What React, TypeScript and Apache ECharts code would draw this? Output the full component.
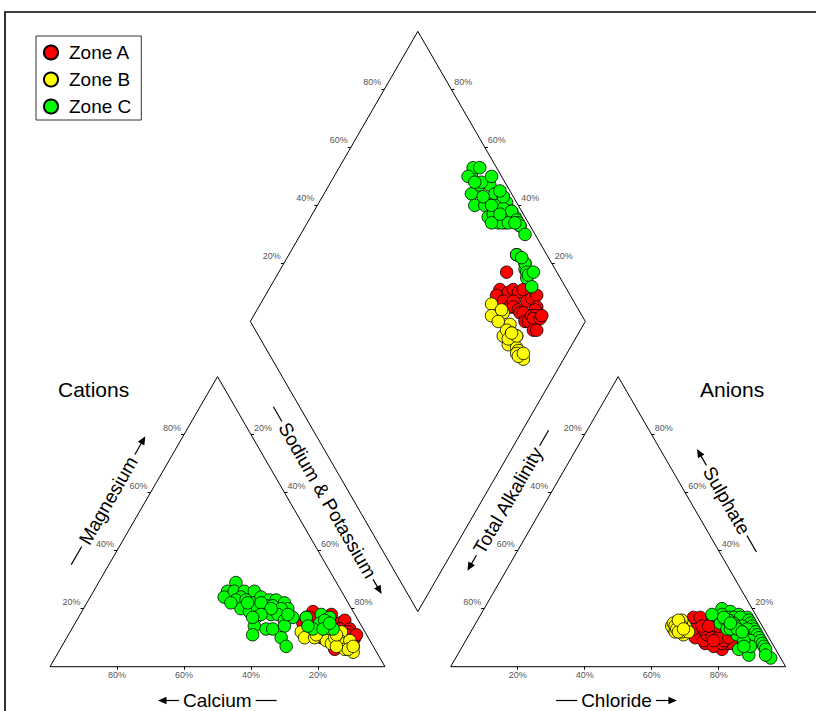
import React, { useEffect, useRef } from "react";
import * as echarts from "echarts";

// ---------------- data ----------------
const ZONES = ["Zone A", "Zone B", "Zone C"];
const ZONE_COLORS = ["#ff0000", "#ffff00", "#00ff00"];
const TICK_VALUES = [20, 40, 60, 80];

// each sample: [Calcium %, Magnesium %, Chloride %, Sulphate %]
// (Sodium & Potassium = 100 - Ca - Mg, Total Alkalinity = 100 - Cl - SO4)
const zoneA: number[][] = [
  [17, 15, 79, 12], [15, 17, 70, 15], [12, 19, 72, 8], [14, 17, 68, 10],
  [16, 12, 70, 12], [15, 13, 66, 13], [13, 14, 78, 6], [7, 18, 71, 9],
  [9, 16, 72, 13], [13, 12, 71, 11], [14, 10, 64, 17], [10, 14, 79, 8],
  [8, 14, 69, 13], [11, 10, 76, 13], [9, 12, 75, 7], [6, 15, 74, 12],
  [4, 16, 72, 16], [7, 13, 66, 17], [11, 8, 81, 9], [12, 6, 68, 14],
  [4, 13, 80, 8], [5, 12, 73, 10], [6, 11, 76, 11], [10, 7, 77, 8],
  [7, 9, 77, 9], [8, 8, 75, 10], [4, 10, 73, 14], [5, 9, 74, 9],
  [3, 11, 78, 10], [6, 7, 70, 14],
];

const zoneB: number[][] = [
  [19, 12, 61, 14], [19, 10, 60, 13], [16, 10, 62, 15], [11, 11, 64, 13],
  [10, 12, 59, 14], [7, 12, 61, 12], [9, 9, 63, 14], [8, 8, 60, 15],
  [7, 5, 62, 13], [9, 6, 64, 11], [14, 13, 61, 16], [6, 9, 59, 15],
  [13, 9, 63, 12], [12, 8, 62, 14], [10, 10, 60, 14], [8, 6, 61, 13],
  [11, 7, 65, 12], [15, 11, 62, 12], [6, 7, 60, 16], [9, 11, 63, 13],
];

const zoneC: number[][] = [
  [30, 29, 71, 20], [34, 26, 74, 19], [36, 24, 72, 18], [32, 26, 77, 18],
  [29, 26, 75, 17], [26, 26, 79, 16], [31, 24, 76, 17], [33, 23, 73, 15],
  [30, 23, 80, 17], [28, 22, 75, 16], [25, 24, 78, 17], [23, 23, 81, 16],
  [21, 23, 82, 15], [19, 22, 83, 14], [19, 20, 84, 13], [33, 20, 69, 18],
  [31, 19, 74, 16], [28, 20, 77, 15], [25, 21, 80, 14], [23, 21, 82, 13],
  [21, 20, 85, 12], [25, 18, 78, 13], [30, 17, 76, 13], [23, 18, 81, 12],
  [22, 16, 86, 11], [19, 17, 87, 10], [32, 14, 80, 11], [29, 13, 82, 10],
  [27, 13, 85, 9], [23, 14, 88, 9], [34, 11, 83, 6], [26, 10, 89, 8],
  [26, 7, 94, 3], [30, 22, 79, 12], [35, 22, 87, 4], [26, 22, 84, 8],
  [24, 20, 86, 7], [28, 18, 90, 7], [31, 17, 91, 6], [20, 18, 92, 4],
  [15, 17, 75, 16], [10, 18, 78, 14], [12, 15, 80, 11], [8, 17, 77, 13],
  [15, 13, 83, 9], [9, 13, 73, 17], [16, 14, 79, 13], [10, 16, 84, 7],
  [12, 13, 76, 15], [9, 15, 81, 12],
];

const ZONE_DATA = [zoneA, zoneB, zoneC];

// ---------------- geometry ----------------
const CW = 816;
const CH = 711;
const S = 335; // triangle side in px
const X0 = 50; // px of cation triangle left corner
const Y0 = 666.7; // px of triangle bases
const H = Math.sqrt(3) / 2;
const GAP = 0.196;
const DLIFT = 0.1645;
const FONT = '"Liberation Sans", Arial, Helvetica, sans-serif';

const p2u = (p: number) => p / S;

function cationXY(ca: number, mg: number) {
  const nak = 1 - ca - mg;
  return [nak + mg / 2, mg * H];
}
function anionXY(cl: number, so4: number) {
  return [1 + GAP + cl + so4 / 2, so4 * H];
}
const BX = 1 + GAP / 2;
function diamondXY(nak: number, clso4: number) {
  return [BX - 0.5 * (1 - nak) + 0.5 * clso4, DLIFT + H * (1 - nak) + H * clso4];
}

function measure(text: string, size: number) {
  const c = document.createElement("canvas").getContext("2d");
  if (!c) return text.length * size * 0.55;
  c.font = `${size}px "Liberation Sans", Arial, sans-serif`;
  return c.measureText(text).width;
}

function axisTitle(
  cx: number,
  cy: number,
  rot: number,
  text: string,
  arrowSide: number,
  L = 21,
  gap = 4
) {
  const size = 19;
  const w = measure(text, size);
  const half = w / 2 + gap;
  const children: any[] = [
    {
      type: "text",
      style: {
        text,
        x: 0,
        y: 0,
        align: "center",
        textAlign: "center",
        verticalAlign: "middle",
        textVerticalAlign: "middle",
        fontSize: size,
        fontFamily: FONT,
        fill: "#000",
      },
    },
  ];
  [-1, 1].forEach((s) => {
    if (s === arrowSide) {
      const tip = s * (half + L);
      children.push({
        type: "line",
        shape: { x1: s * half, y1: 0, x2: tip - s * 6, y2: 0 },
        style: { stroke: "#000", lineWidth: 1.2 },
      });
      children.push({
        type: "polygon",
        shape: {
          points: [
            [tip, 0],
            [tip - s * 8.5, -3.7],
            [tip - s * 8.5, 3.7],
          ],
        },
        style: { fill: "#000" },
      });
    } else {
      children.push({
        type: "line",
        shape: { x1: s * half, y1: 0, x2: s * (half + L), y2: 0 },
        style: { stroke: "#000", lineWidth: 1.2 },
      });
    }
  });
  return { type: "group", x: cx, y: cy, rotation: rot, children };
}

function buildOption() {
  const T = [BX, DLIFT + 2 * H];
  const Lft = [BX - 0.5, DLIFT + H];
  const R = [BX + 0.5, DLIFT + H];
  const B = [BX, DLIFT];

  const outlines = [
    [[0, 0], [1, 0], [0.5, H], [0, 0]],
    [[1 + GAP, 0], [2 + GAP, 0], [1.5 + GAP, H], [1 + GAP, 0]],
    [B, R, T, Lft, B],
  ];

  const tl = p2u(3);
  const ticks: number[][][] = [];
  const labels: any[] = [];
  const side = (pt: number[], dir: number, t: number) => {
    ticks.push([pt, [pt[0] + dir * tl, pt[1]]]);
    labels.push({ value: pt, label: { formatter: `${t}%`, offset: [dir * 12, -7] } });
  };
  const bottom = (pt: number[], t: number) => {
    ticks.push([pt, [pt[0], pt[1] - tl]]);
    labels.push({ value: pt, label: { formatter: `${t}%`, offset: [0, 8.5] } });
  };

  TICK_VALUES.forEach((t) => {
    const f = t / 100;
    // cation triangle
    bottom([1 - f, 0], t); // calcium
    side([f / 2, f * H], -1, t); // magnesium
    side([0.5 + f / 2, (1 - f) * H], 1, t); // sodium & potassium
    // anion triangle
    bottom([1 + GAP + f, 0], t); // chloride
    side([1 + GAP + (1 - f) / 2, (1 - f) * H], -1, t); // total alkalinity
    side([1 + GAP + 1 - f / 2, f * H], 1, t); // sulphate
    // diamond
    side([Lft[0] + f * 0.5, Lft[1] + f * H], -1, t);
    side([R[0] - f * 0.5, R[1] + f * H], 1, t);
  });

  const zoneSeries = ZONES.map((name, i) => {
    const pts: number[][] = [];
    const rows = ZONE_DATA[i];
    rows.forEach((r) => pts.push(cationXY(r[0] / 100, r[1] / 100)));
    rows.forEach((r) => pts.push(anionXY(r[2] / 100, r[3] / 100)));
    rows.forEach((r) =>
      pts.push(diamondXY(1 - r[0] / 100 - r[1] / 100, r[2] / 100 + r[3] / 100))
    );
    return {
      name,
      type: "scatter",
      symbol: "circle",
      symbolSize: 12.5,
      z: 5,
      data: pts,
      itemStyle: {
        color: ZONE_COLORS[i],
        borderColor: "#000",
        borderWidth: 0.8,
        opacity: 1,
      },
      emphasis: { disabled: true },
    };
  });

  return {
    animation: false,
    backgroundColor: "#fff",
    grid: { left: 0, right: 0, top: 0, bottom: 0 },
    xAxis: { type: "value", min: -X0 / S, max: (CW - X0) / S, show: false },
    yAxis: { type: "value", min: -(CH - Y0) / S, max: Y0 / S, show: false },
    legend: {
      data: ZONES,
      orient: "vertical",
      left: 36,
      top: 36,
      icon: "circle",
      itemWidth: 14,
      itemHeight: 14,
      itemGap: 8,
      padding: [7, 10, 4, 7],
      borderColor: "#333",
      borderWidth: 1,
      selectedMode: false,
      textStyle: {
        fontSize: 19,
        fontFamily: FONT,
        color: "#000",
        padding: [0, 0, 0, 6],
      },
    },
    series: [
      {
        type: "lines",
        coordinateSystem: "cartesian2d",
        polyline: true,
        silent: true,
        z: 2,
        lineStyle: { color: "#000", width: 1, opacity: 1 },
        data: outlines.map((c) => ({ coords: c })),
      },
      {
        type: "lines",
        coordinateSystem: "cartesian2d",
        silent: true,
        z: 2,
        lineStyle: { color: "#000", width: 1, opacity: 1 },
        data: ticks.map((c) => ({ coords: c })),
      },
      ...zoneSeries,
      {
        type: "scatter",
        silent: true,
        symbol: "circle",
        symbolSize: 1,
        z: 3,
        itemStyle: { color: "transparent" },
        label: {
          show: true,
          position: "inside",
          fontSize: 9,
          fontFamily: FONT,
          color: "#222",
        },
        data: labels,
      },
    ],
    graphic: [
      {
        type: "rect",
        shape: { x: 5, y: 12, width: 1000, height: 1000 },
        style: { fill: "none", stroke: "#000", lineWidth: 1.6 },
        silent: true,
      },
      {
        type: "text",
        style: {
          text: "Cations",
          x: 58,
          y: 389.5,
          align: "left",
          textAlign: "left",
          verticalAlign: "middle",
          textVerticalAlign: "middle",
          fontSize: 21,
          fontFamily: FONT,
          fill: "#000",
        },
      },
      {
        type: "text",
        style: {
          text: "Anions",
          x: 700,
          y: 389.5,
          align: "left",
          textAlign: "left",
          verticalAlign: "middle",
          textVerticalAlign: "middle",
          fontSize: 21,
          fontFamily: FONT,
          fill: "#000",
        },
      },
      axisTitle(217.3, 700.5, 0, "Calcium", -1),
      axisTitle(616.5, 700.5, 0, "Chloride", 1),
      axisTitle(108.3, 500.5, Math.PI / 3, "Magnesium", 1),
      axisTitle(327.5, 500.4, -Math.PI / 3, "Sodium & Potassium", 1, 17, 3),
      axisTitle(508, 500.5, Math.PI / 3, "Total Alkalinity", -1, 18, 3),
      axisTitle(726.7, 500.5, -Math.PI / 3, "Sulphate", -1, 19, 3),
    ],
  };
}

export default function App() {
  const ref = useRef<HTMLDivElement>(null);
  useEffect(() => {
    document.body.style.margin = "0";
    if (!ref.current) return;
    const chart = echarts.init(ref.current, null, { renderer: "svg" });
    chart.setOption(buildOption() as any);
    return () => chart.dispose();
  }, []);
  return (
    <div
      ref={ref}
      style={{ width: CW, height: CH, position: "absolute", left: 0, top: 0 }}
    />
  );
}
